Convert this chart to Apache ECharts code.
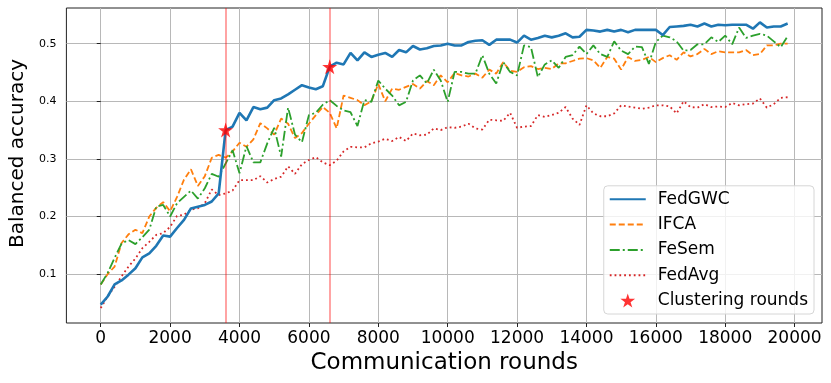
<!DOCTYPE html>
<html>
<head>
<meta charset="utf-8">
<title>Balanced accuracy</title>
<script src="https://cdn.jsdelivr.net/npm/echarts@6/dist/echarts.min.js"></script>
<style>
    html, body { margin: 0; padding: 0; background: #fff; }
    #main { width: 831px; height: 383px; }
</style>
</head>
<body>
<div id="main"></div>
<script>
// communication rounds where accuracy was logged
var rounds = [
    0, 200, 400, 600, 800, 1000, 1200, 1400, 1600, 1800,
    2000, 2200, 2400, 2600, 2800, 3000, 3200, 3400, 3600, 3800,
    4000, 4200, 4400, 4600, 4800, 5000, 5200, 5400, 5600, 5800,
    6000, 6200, 6400, 6600, 6800, 7000, 7200, 7400, 7600, 7800,
    8000, 8200, 8400, 8600, 8800, 9000, 9200, 9400, 9600, 9800,
    10000, 10200, 10400, 10600, 10800, 11000, 11200, 11400, 11600, 11800,
    12000, 12200, 12400, 12600, 12800, 13000, 13200, 13400, 13600, 13800,
    14000, 14200, 14400, 14600, 14800, 15000, 15200, 15400, 15600, 15800,
    16000, 16200, 16400, 16600, 16800, 17000, 17200, 17400, 17600, 17800,
    18000, 18200, 18400, 18600, 18800, 19000, 19200, 19400, 19600, 19800
];

var fedgwc = [
    0.047, 0.061, 0.082, 0.089, 0.099, 0.110, 0.129, 0.136, 0.149, 0.167,
    0.165, 0.180, 0.194, 0.214, 0.217, 0.220, 0.226, 0.240, 0.350, 0.356,
    0.380, 0.367, 0.390, 0.386, 0.389, 0.402, 0.405, 0.412, 0.420, 0.428,
    0.424, 0.421, 0.426, 0.460, 0.467, 0.464, 0.484, 0.471, 0.485, 0.477,
    0.481, 0.484, 0.477, 0.489, 0.485, 0.496, 0.490, 0.492, 0.496, 0.497,
    0.500, 0.497, 0.497, 0.503, 0.505, 0.506, 0.498, 0.507, 0.507, 0.507,
    0.502, 0.514, 0.507, 0.510, 0.514, 0.511, 0.514, 0.518, 0.511, 0.512,
    0.524, 0.523, 0.521, 0.524, 0.521, 0.524, 0.520, 0.524, 0.524, 0.524,
    0.524, 0.515, 0.529, 0.530, 0.531, 0.533, 0.530, 0.535, 0.530, 0.533,
    0.532, 0.533, 0.533, 0.533, 0.526, 0.537, 0.528, 0.530, 0.530, 0.535
];

var ifca = [
    0.082, 0.100, 0.113, 0.154, 0.169, 0.177, 0.171, 0.200, 0.215, 0.225,
    0.209, 0.234, 0.264, 0.282, 0.253, 0.270, 0.302, 0.307, 0.302, 0.313,
    0.328, 0.321, 0.334, 0.362, 0.353, 0.342, 0.370, 0.361, 0.336, 0.345,
    0.361, 0.376, 0.390, 0.380, 0.353, 0.410, 0.406, 0.402, 0.393, 0.400,
    0.430, 0.400, 0.422, 0.420, 0.425, 0.430, 0.422, 0.435, 0.428, 0.445,
    0.433, 0.449, 0.445, 0.443, 0.448, 0.441, 0.455, 0.448, 0.468, 0.453,
    0.451, 0.459, 0.461, 0.456, 0.458, 0.456, 0.466, 0.466, 0.470, 0.474,
    0.475, 0.471, 0.458, 0.477, 0.474, 0.455, 0.477, 0.470, 0.472, 0.477,
    0.468, 0.475, 0.480, 0.472, 0.485, 0.478, 0.482, 0.491, 0.482, 0.487,
    0.485, 0.485, 0.485, 0.489, 0.480, 0.482, 0.497, 0.497, 0.500, 0.500
];

var fesem = [
    0.082, 0.102, 0.128, 0.153, 0.159, 0.152, 0.164, 0.177, 0.217, 0.220,
    0.200, 0.223, 0.234, 0.245, 0.231, 0.249, 0.274, 0.269, 0.292, 0.315,
    0.275, 0.322, 0.294, 0.294, 0.327, 0.354, 0.304, 0.389, 0.342, 0.329,
    0.376, 0.380, 0.394, 0.402, 0.392, 0.384, 0.381, 0.357, 0.402, 0.399,
    0.436, 0.422, 0.410, 0.393, 0.399, 0.436, 0.445, 0.431, 0.455, 0.436,
    0.399, 0.451, 0.451, 0.448, 0.448, 0.480, 0.448, 0.431, 0.468, 0.451,
    0.445, 0.497, 0.494, 0.442, 0.464, 0.471, 0.458, 0.477, 0.480, 0.495,
    0.482, 0.497, 0.482, 0.477, 0.504, 0.488, 0.482, 0.495, 0.494, 0.465,
    0.503, 0.514, 0.511, 0.504, 0.488, 0.489, 0.499, 0.499, 0.511, 0.503,
    0.514, 0.499, 0.528, 0.510, 0.514, 0.517, 0.514, 0.504, 0.494, 0.513
];

var fedavg = [
    0.041, 0.061, 0.078, 0.096, 0.113, 0.127, 0.145, 0.156, 0.168, 0.171,
    0.182, 0.201, 0.203, 0.212, 0.214, 0.223, 0.247, 0.237, 0.240, 0.245,
    0.263, 0.263, 0.263, 0.270, 0.259, 0.265, 0.269, 0.287, 0.274, 0.291,
    0.298, 0.303, 0.294, 0.289, 0.297, 0.313, 0.321, 0.320, 0.320, 0.327,
    0.330, 0.335, 0.331, 0.338, 0.331, 0.344, 0.341, 0.342, 0.353, 0.350,
    0.355, 0.354, 0.356, 0.361, 0.353, 0.351, 0.368, 0.367, 0.366, 0.380,
    0.354, 0.356, 0.357, 0.376, 0.373, 0.376, 0.380, 0.390, 0.370, 0.359,
    0.393, 0.379, 0.374, 0.374, 0.379, 0.393, 0.391, 0.389, 0.387, 0.389,
    0.393, 0.393, 0.391, 0.379, 0.400, 0.390, 0.389, 0.395, 0.390, 0.391,
    0.390, 0.397, 0.393, 0.395, 0.396, 0.405, 0.389, 0.395, 0.406, 0.407
];

// rounds where clients were re-clustered, and FedGWC accuracy there
var clusterRounds = [3600, 6600];
var clusterAcc = [0.350, 0.460];

var xTicks = [0, 2000, 4000, 6000, 8000, 10000, 12000, 14000, 16000, 18000, 20000];
var yTicks = [0.1, 0.2, 0.3, 0.4, 0.5];

(function() {
    var chartDom = document.getElementById('main');
    var myChart = echarts.init(chartDom);

    var font = 'DejaVu Sans';
    var starPath = 'path://M50,0 L61.2,34.5 L97.6,34.5 L68.2,55.9 L79.4,90.5 L50,69.1 L20.6,90.5 L31.8,55.9 L2.4,34.5 L38.8,34.5 Z';

    function pairs(ys) {
        return rounds.map(function(r, i) { return [r, ys[i]]; });
    }

    function lineSeries(name, ys, color, width, dash) {
        return {
            name: name,
            type: 'line',
            data: pairs(ys),
            symbol: 'none',
            showSymbol: false,
            smooth: false,
            animation: false,
            lineStyle: { color: color, width: width, type: dash },
            itemStyle: { color: color }
        };
    }

    var gwc = lineSeries('FedGWC', fedgwc, '#1f77b4', 2.6, 'solid');
    gwc.z = 4;
    gwc.markLine = {
        silent: true,
        symbol: 'none',
        animation: false,
        label: { show: false },
        lineStyle: { color: 'rgba(255,0,0,0.4)', width: 1.8, type: 'solid' },
        data: clusterRounds.map(function(r) { return { xAxis: r }; })
    };

    // legend entries: line items get no marker, only their line sample
    var lineNames = ['FedGWC', 'IFCA', 'FeSem', 'FedAvg'];
    var legendData = lineNames.map(function(n) {
        return { name: n, itemStyle: { opacity: 0 } };
    });
    legendData.push({ name: 'Clustering rounds' });

    option = {
        backgroundColor: '#fff',
        animation: false,
        textStyle: { fontFamily: font, color: '#000' },
        grid: {
            left: 61,
            right: 9,
            top: 8,
            bottom: 60,
            show: true,
            borderColor: '#222',
            borderWidth: 1,
            backgroundColor: 'transparent'
        },
        legend: {
            orient: 'vertical',
            right: 17,
            bottom: 69,
            itemWidth: 36,
            itemHeight: 14,
            itemGap: 8.3,
            padding: [5, 6, 5, 5],
            backgroundColor: 'rgba(255,255,255,0.8)',
            borderColor: '#d6d6d6',
            borderWidth: 1,
            borderRadius: 4,
            textStyle: { fontSize: 17, fontFamily: font, color: '#000', padding: [0, 0, 0, 7] },
            data: legendData
        },
        xAxis: {
            type: 'value',
            min: -990,
            max: 20790,
            name: 'Communication rounds',
            nameLocation: 'middle',
            nameGap: 27,
            nameTextStyle: { fontSize: 23, fontFamily: font, color: '#000' },
            axisLine: { show: false },
            axisTick: { show: true, length: 4, customValues: xTicks, lineStyle: { color: '#222' } },
            axisLabel: {
                fontSize: 17,
                margin: 7,
                color: '#000',
                customValues: xTicks,
                formatter: function(v) { return String(v); }
            },
            splitLine: { show: true, lineStyle: { color: '#b8b8b8', width: 1 } }
        },
        yAxis: {
            type: 'value',
            min: 0.015,
            max: 0.562,
            name: 'Balanced accuracy',
            nameLocation: 'middle',
            nameGap: 35,
            nameRotate: 90,
            nameTextStyle: { fontSize: 20, fontFamily: font, color: '#000', padding: [0, 0, 0, 24] },
            axisLine: { show: false },
            axisTick: { show: true, length: 4, customValues: yTicks, lineStyle: { color: '#222' } },
            axisLabel: {
                fontSize: 11,
                margin: 10,
                color: '#000',
                customValues: yTicks,
                formatter: function(v) { return v.toFixed(1); }
            },
            splitLine: { show: true, lineStyle: { color: '#b8b8b8', width: 1 } }
        },
        series: [
            gwc,
            lineSeries('IFCA', ifca, '#ff7f0e', 1.8, [6, 3]),
            lineSeries('FeSem', fesem, '#2ca02c', 1.8, [10, 3, 2, 3]),
            lineSeries('FedAvg', fedavg, '#d62728', 1.8, [1.8, 3]),
            {
                name: 'Clustering rounds',
                type: 'scatter',
                z: 6,
                animation: false,
                symbol: starPath,
                symbolSize: 15,
                itemStyle: { color: '#ff0000' },
                data: clusterRounds.map(function(r, i) { return [r, clusterAcc[i]]; })
            }
        ]
    };

    myChart.setOption(option);

    window.addEventListener('resize', function() {
        myChart.resize();
    });
})();
</script>
</body>
</html>
